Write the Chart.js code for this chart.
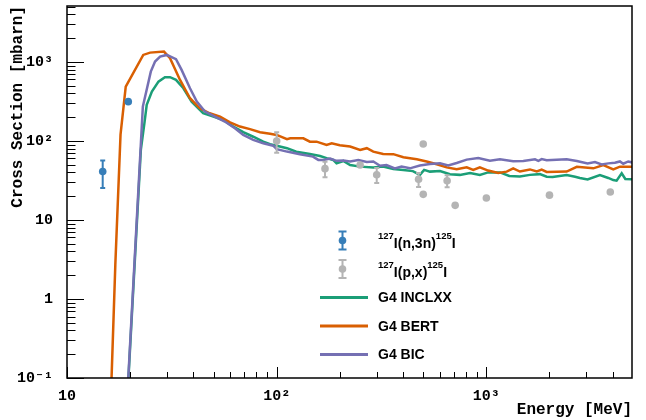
<!DOCTYPE html>
<html>
<head>
<meta charset="utf-8">
<script src="https://cdn.jsdelivr.net/npm/chart.js@4/dist/chart.umd.min.js"></script>
<style>
    html, body { margin: 0; padding: 0; background: #fff; }
</style>
</head>
<body>
<canvas id="grafico" width="646" height="420"></canvas>
<script>
//Dados - 127I(n,3n)125I
const nEnergia = [14.8, 19.6]
const nSecao = [41, 314]
const nErro = [15.7, 0]

//Dados - 127I(p,x)125I
const pEnergia = [100, 170, 250, 300, 500, 475, 500, 650, 710, 1000, 2000, 3900]
const pSecao = [100, 44.6, 49.7, 37.4, 91.6, 32.7, 21.1, 31.4, 15.3, 19, 20.6, 22.6]
const pErro = [29, 10, 0, 8, 0, 6.5, 0, 5.5, 0, 0, 0, 0]

//G4 INCLXX
const inclEnergia = [19, 22.5, 23.4, 24, 25.4, 27.3, 29.3, 31, 33.1, 35.9, 39.3, 42.3, 44.6, 49.9, 55.6, 62.1, 69.3, 77.3, 86.3, 93, 100, 112, 124, 144, 161, 173, 186, 193, 208, 224, 250, 289, 322, 360, 402, 446, 482, 505, 538, 601, 670, 748, 836, 931, 1020, 1161, 1287, 1445, 1614, 1800, 1940, 2070, 2415, 2650, 2793, 3040, 3480, 3814, 4030, 4180, 4420, 4600, 5020]
const inclSecao = [0.02, 77, 168, 286, 421, 563, 640, 640, 592, 464, 314, 259, 224, 203, 184, 152, 129, 113, 98, 91, 87, 81, 73, 68.5, 64.5, 60.6, 57.5, 52, 55.8, 49.5, 47.3, 46, 47.3, 44.2, 43, 41.5, 37.2, 43, 40.9, 41.7, 37.9, 37.2, 39.4, 37.2, 40, 40, 36, 35.5, 37.2, 38, 35.2, 35, 37, 35.2, 34, 32.5, 37, 34, 32, 31.4, 39, 33, 32.6]

//G4 BERT
const bertEnergia = [16, 17, 18, 19.06, 23.1, 24.9, 29, 31, 34.6, 38.6, 43, 47.9, 53.7, 59.9, 66.8, 74.6, 83.3, 93, 100, 112, 116, 134, 144, 155, 173, 183, 200, 224, 250, 269, 289, 322, 360, 402, 466, 519, 580, 647, 722, 806, 866, 931, 1020, 1139, 1250, 1343, 1445, 1614, 1740, 1836, 1940, 2415, 2700, 3237, 3614, 4030, 4335, 5020]
const bertSecao = [0.0216, 2.7, 120, 486, 1226, 1311, 1350, 1114, 592, 347, 259, 224, 203, 172, 152, 141, 129, 123, 119, 105, 108, 108, 98, 98, 89, 93.5, 88, 85, 77, 81, 73.3, 68.5, 68, 62.1, 58.5, 55, 50.6, 46.3, 44, 46.3, 43, 46.3, 42.2, 39.4, 40.9, 45, 41, 43.6, 41, 43.3, 40.5, 41, 47, 45, 49.5, 43.6, 47.3, 47.3]

//G4 BIC
const bicEnergia = [19, 23, 25.1, 26.3, 27.8, 29.9, 33.1, 35.2, 38.6, 41.6, 45.5, 50.8, 56.6, 63.2, 69.3, 77.3, 86.3, 96.3, 100, 112, 129, 149, 158, 167, 180, 193, 208, 224, 245, 269, 289, 311, 334, 366, 394, 432, 482, 538, 601, 658, 722, 806, 915, 1040, 1161, 1343, 1500, 1706, 1770, 1836, 1940, 2415, 2700, 3040, 3296, 3546, 3814, 4103, 4335, 4497, 4750, 5020]
const bicSecao = [0.0215, 272, 754, 1010, 1167, 1226, 1082, 792, 464, 314, 235, 203, 176, 145, 119, 103, 93.5, 87, 78.6, 73.3, 68, 63.4, 57.5, 57.5, 60, 56, 56.4, 55, 57.5, 54, 55, 48.5, 49.5, 45, 47.3, 45, 48.8, 51, 52, 49, 52.5, 58, 60.6, 56, 58.5, 55.5, 55.8, 58.5, 56, 59, 57, 58.5, 55.8, 52, 54, 50.5, 52, 53, 55, 51.5, 55, 53]

//Eixos
const xTicks = [10, 100, 1000]
const xTickLabels = ['10', '10²', '10³']
const yTicks = [0.1, 1, 10, 100, 1000]
const yTickLabels = ['10⁻¹', '1', '10', '10²', '10³']

const azul = '#377eb8'
const cinza = '#b4b4b4'
const verde = '#1b9e77'
const laranja = '#d95f02'
const roxo = '#7570b3'

const pares = (xs, ys) => xs.map((x, i) => ({ x: x, y: ys[i] }))

const legendaItens = [
    { texto: '^{127}I(n,3n)^{125}I', tipo: 'ponto', cor: azul },
    { texto: '^{127}I(p,x)^{125}I', tipo: 'ponto', cor: cinza },
    { texto: 'G4 INCLXX', tipo: 'linha', cor: verde },
    { texto: 'G4 BERT', tipo: 'linha', cor: laranja },
    { texto: 'G4 BIC', tipo: 'linha', cor: roxo }
]

/*--------------------------------------------------------------------------------------------------------*/
//Moldura e ticks para dentro (estilo ROOT)
const moldura = {
    id: 'moldura',
    afterDraw(chart) {
        const { ctx, chartArea: a, scales: { x, y } } = chart
        ctx.save()
        ctx.strokeStyle = '#000'
        ctx.lineWidth = 1
        ctx.beginPath()
        for (let d = 10; d <= x.max; d *= 10) {
            for (let k = 1; k < 10; k++) {
                const v = d * k
                if (v > x.max) break
                const px = Math.round(x.getPixelForValue(v)) + 0.5
                const len = k === 1 ? 11 : 6
                ctx.moveTo(px, a.bottom)
                ctx.lineTo(px, a.bottom - len)
            }
        }
        for (let d = 0.1; d <= y.max; d *= 10) {
            for (let k = 1; k < 10; k++) {
                const v = d * k
                if (v > y.max) break
                const py = Math.round(y.getPixelForValue(v)) + 0.5
                const len = k === 1 ? 17 : 8.5
                ctx.moveTo(a.left, py)
                ctx.lineTo(a.left + len, py)
            }
        }
        ctx.stroke()
        ctx.lineWidth = 1.5
        ctx.strokeRect(a.left, a.top, a.right - a.left, a.bottom - a.top)
        ctx.restore()
    }
}

//Barras de erro
const barrasErro = {
    id: 'barrasErro',
    afterDatasetsDraw(chart) {
        const { ctx, scales: { y } } = chart
        chart.data.datasets.forEach((ds, i) => {
            if (!ds.erros) return
            const meta = chart.getDatasetMeta(i)
            ctx.save()
            ctx.strokeStyle = ds.backgroundColor
            ctx.lineWidth = 2
            meta.data.forEach((pt, j) => {
                const e = ds.erros[j]
                if (!e) return
                const v = ds.data[j].y
                const yTop = y.getPixelForValue(v + e)
                const yBot = y.getPixelForValue(v - e)
                ctx.beginPath()
                ctx.moveTo(pt.x, yTop)
                ctx.lineTo(pt.x, yBot)
                ctx.moveTo(pt.x - 2.5, yTop)
                ctx.lineTo(pt.x + 2.5, yTop)
                ctx.moveTo(pt.x - 2.5, yBot)
                ctx.lineTo(pt.x + 2.5, yBot)
                ctx.stroke()
            })
            ctx.restore()
        })
    }
}

//Legenda dentro do grafico
const desenhaTexto = (ctx, texto, x, y) => {
    const partes = texto.split(/(\^\{[^}]*\})/).filter(p => p)
    let cursor = x
    partes.forEach(p => {
        ctx.textBaseline = 'middle'
        ctx.textAlign = 'left'
        if (p.startsWith('^{')) {
            const s = p.slice(2, -1)
            ctx.font = 'bold 9.5px "Liberation Sans", Arial, sans-serif'
            ctx.fillText(s, cursor, y - 8)
            cursor += ctx.measureText(s).width
        } else {
            ctx.font = 'bold 14px "Liberation Sans", Arial, sans-serif'
            ctx.fillText(p, cursor, y)
            cursor += ctx.measureText(p).width
        }
    })
}

const legendaRoot = {
    id: 'legendaRoot',
    afterDraw(chart) {
        const ctx = chart.ctx
        ctx.save()
        legendaItens.forEach((item, i) => {
            const yl = 240.5 + i * 28.5
            ctx.strokeStyle = item.cor
            ctx.fillStyle = item.cor
            if (item.tipo === 'ponto') {
                ctx.lineWidth = 2
                ctx.beginPath()
                ctx.moveTo(342.5, yl - 9)
                ctx.lineTo(342.5, yl + 9)
                ctx.moveTo(338.5, yl - 9)
                ctx.lineTo(346.5, yl - 9)
                ctx.moveTo(338.5, yl + 9)
                ctx.lineTo(346.5, yl + 9)
                ctx.stroke()
                ctx.beginPath()
                ctx.arc(342.5, yl, 3.8, 0, Math.PI * 2)
                ctx.fill()
            } else {
                ctx.lineWidth = 3
                ctx.beginPath()
                ctx.moveTo(320, yl)
                ctx.lineTo(368, yl)
                ctx.stroke()
            }
            ctx.fillStyle = '#000'
            const temSup = item.texto.includes('^{')
            desenhaTexto(ctx, item.texto, 378, yl + (temSup ? 4 : 1))
        })
        ctx.restore()
    }
}

/*--------------------------------------------------------------------------------------------------------*/
const fonteEixo = { family: '"Liberation Mono", "DejaVu Sans Mono", monospace', size: 15, weight: 'bold' }
const fonteTitulo = { family: '"Liberation Mono", "DejaVu Sans Mono", monospace', size: 16, weight: 'bold', lineHeight: 1 }

const curva = (label, xs, ys, cor) => ({
    label: label,
    data: pares(xs, ys),
    showLine: true,
    borderColor: cor,
    backgroundColor: cor,
    borderWidth: 2.5,
    pointRadius: 0,
    tension: 0,
    clip: 0
})

new Chart(document.getElementById('grafico'), {
    type: 'scatter',
    data: {
        datasets: [
            {
                label: '127I(n,3n)125I',
                data: pares(nEnergia, nSecao),
                erros: nErro,
                backgroundColor: azul,
                borderColor: azul,
                pointRadius: 3.8,
                pointBorderWidth: 0,
                clip: 0
            },
            {
                label: '127I(p,x)125I',
                data: pares(pEnergia, pSecao),
                erros: pErro,
                backgroundColor: cinza,
                borderColor: cinza,
                pointRadius: 3.8,
                pointBorderWidth: 0,
                clip: 0
            },
            curva('G4 BIC', bicEnergia, bicSecao, roxo),
            curva('G4 BERT', bertEnergia, bertSecao, laranja),
            curva('G4 INCLXX', inclEnergia, inclSecao, verde)
        ]
    },
    options: {
        responsive: false,
        animation: false,
        devicePixelRatio: 1,
        layout: { padding: { top: 6, right: 14, left: 0, bottom: 0 } },
        plugins: {
            legend: { display: false },
            tooltip: { enabled: false }
        },
        scales: {
            x: {
                type: 'logarithmic',
                min: 10,
                max: 4950,
                grid: { display: false },
                border: { display: false },
                afterBuildTicks: scale => { scale.ticks = xTicks.map(v => ({ value: v })) },
                afterFit: scale => {
                    scale.height = 42
                    scale.paddingLeft = 0
                    scale.paddingRight = 0
                },
                ticks: {
                    autoSkip: false,
                    maxRotation: 0,
                    padding: 1,
                    color: '#000',
                    font: fonteEixo,
                    callback: (value, index) => xTickLabels[index]
                },
                title: {
                    display: true,
                    text: 'Energy [MeV]',
                    align: 'end',
                    color: '#000',
                    font: fonteTitulo,
                    padding: { top: 0, bottom: 2 }
                }
            },
            y: {
                type: 'logarithmic',
                min: 0.1,
                max: 5100,
                grid: { display: false },
                border: { display: false },
                afterBuildTicks: scale => { scale.ticks = yTicks.map(v => ({ value: v })) },
                afterFit: scale => {
                    scale.width = 67
                    scale.paddingTop = 0
                    scale.paddingBottom = 0
                },
                ticks: {
                    padding: 6,
                    color: '#000',
                    font: fonteEixo,
                    callback: (value, index) => yTickLabels[index]
                },
                title: {
                    display: true,
                    text: 'Cross Section [mbarn]',
                    align: 'end',
                    color: '#000',
                    font: fonteTitulo,
                    padding: { top: 10, bottom: 0 }
                }
            }
        }
    },
    plugins: [moldura, barrasErro, legendaRoot]
})
</script>
</body>
</html>
